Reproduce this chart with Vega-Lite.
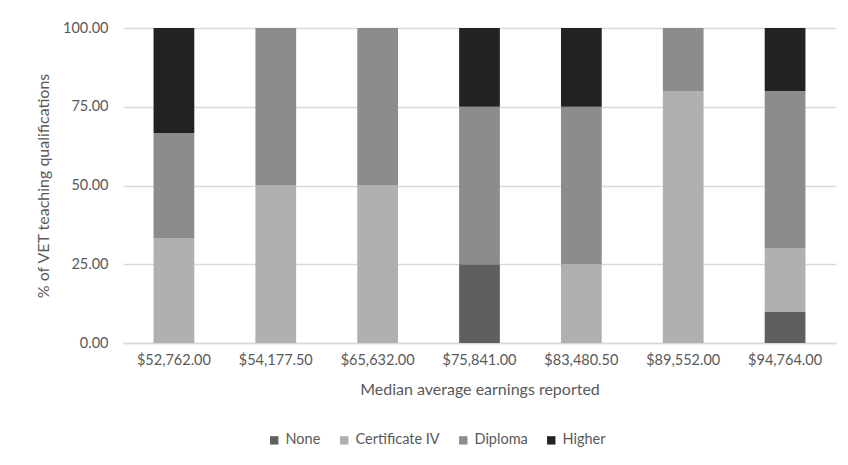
{
  "$schema": "https://vega.github.io/schema/vega-lite/v6.json",
  "width": 713,
  "height": 315,
  "autosize": {"type": "none"},
  "padding": {"left": 123, "top": 28, "right": 12, "bottom": 122},
  "background": "white",
  "config": {
    "view": {"stroke": null},
    "font": "Lato",
    "axis": {"labelFont": "Lato", "titleFont": "Lato", "labelColor": "#595959", "titleColor": "#595959", "titleFontWeight": "normal"},
    "legend": {"labelFont": "Lato"}
  },
  "data": {
    "values": [
      {"earn": "$52,762.00", "qual": "Certificate IV", "ord": 2, "pct": 33.33},
      {"earn": "$52,762.00", "qual": "Diploma", "ord": 3, "pct": 33.33},
      {"earn": "$52,762.00", "qual": "Higher", "ord": 4, "pct": 33.34},
      {"earn": "$54,177.50", "qual": "Certificate IV", "ord": 2, "pct": 50},
      {"earn": "$54,177.50", "qual": "Diploma", "ord": 3, "pct": 50},
      {"earn": "$65,632.00", "qual": "Certificate IV", "ord": 2, "pct": 50},
      {"earn": "$65,632.00", "qual": "Diploma", "ord": 3, "pct": 50},
      {"earn": "$75,841.00", "qual": "None", "ord": 1, "pct": 25},
      {"earn": "$75,841.00", "qual": "Diploma", "ord": 3, "pct": 50},
      {"earn": "$75,841.00", "qual": "Higher", "ord": 4, "pct": 25},
      {"earn": "$83,480.50", "qual": "Certificate IV", "ord": 2, "pct": 25},
      {"earn": "$83,480.50", "qual": "Diploma", "ord": 3, "pct": 50},
      {"earn": "$83,480.50", "qual": "Higher", "ord": 4, "pct": 25},
      {"earn": "$89,552.00", "qual": "Certificate IV", "ord": 2, "pct": 80},
      {"earn": "$89,552.00", "qual": "Diploma", "ord": 3, "pct": 20},
      {"earn": "$94,764.00", "qual": "None", "ord": 1, "pct": 10},
      {"earn": "$94,764.00", "qual": "Certificate IV", "ord": 2, "pct": 20},
      {"earn": "$94,764.00", "qual": "Diploma", "ord": 3, "pct": 50},
      {"earn": "$94,764.00", "qual": "Higher", "ord": 4, "pct": 20}
    ]
  },
  "mark": {"type": "bar"},
  "encoding": {
    "x": {
      "field": "earn", "type": "nominal", "sort": null,
      "scale": {"paddingInner": 0.6, "paddingOuter": 0.3},
      "axis": {
        "title": "Median average earnings reported", "titleFontSize": 16, "titlePadding": 15,
        "labelAngle": 0, "labelFontSize": 14.5, "labelPadding": 10, "ticks": false,
        "domainColor": "#d9d9d9", "domainWidth": 1.3
      }
    },
    "y": {
      "field": "pct", "type": "quantitative", "stack": "zero",
      "scale": {"domain": [0, 100]},
      "axis": {
        "title": "% of VET teaching qualifications", "titleFontSize": 16, "titlePadding": 11,
        "values": [0, 25, 50, 75, 100], "format": ".2f", "labelFontSize": 14.5, "labelPadding": 15,
        "ticks": false, "domain": false, "gridColor": "#d9d9d9", "gridWidth": 1.3
      }
    },
    "color": {
      "field": "qual", "type": "nominal",
      "scale": {"domain": ["None", "Certificate IV", "Diploma", "Higher"], "range": ["#5f5f5f", "#b0b0b0", "#8c8c8c", "#222222"]},
      "legend": {
        "title": null, "orient": "none", "direction": "horizontal", "legendX": 144, "legendY": 405,
        "symbolType": "square", "symbolSize": 70, "symbolStrokeWidth": 0, "labelFontSize": 14.5, "labelColor": "#595959",
        "columnPadding": 16, "labelOffset": 4
      }
    },
    "order": {"field": "ord", "type": "quantitative", "sort": "ascending"}
  }
}
